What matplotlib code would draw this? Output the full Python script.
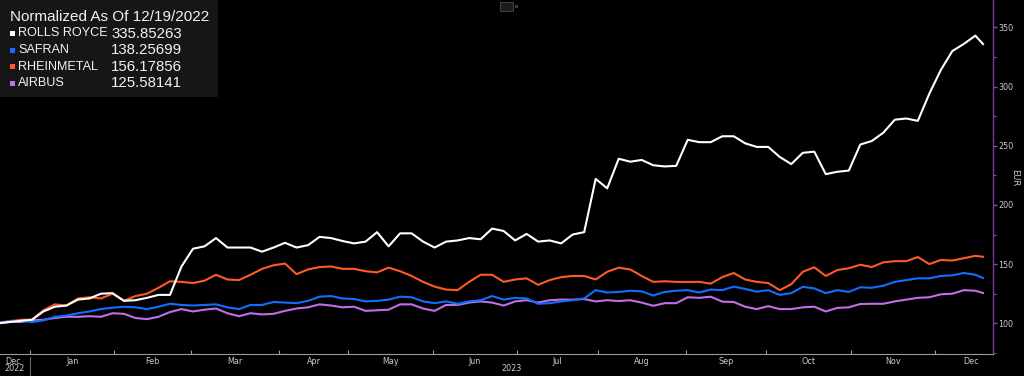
import matplotlib.pyplot as plt
import pandas as pd
from matplotlib.patches import Rectangle

plt.rcParams['font.family'] = ['Liberation Sans', 'DejaVu Sans']

# trading calendar (Xetra holidays removed)
holidays = ["2022-12-26", "2023-04-07", "2023-04-10", "2023-05-01",
            "2023-12-25", "2023-12-26"]
calendar = pd.bdate_range("2022-12-19", "2023-12-29")
calendar = calendar[~calendar.isin(pd.to_datetime(holidays))]
sessions = calendar[calendar <= "2023-12-19"]

# values read every 3rd session, plus the last one
sample_idx = list(range(0, len(sessions), 3)) + [len(sessions) - 1]

names = ["ROLLS ROYCE", "SAFRAN", "RHEINMETAL", "AIRBUS"]
last_values = ["335.85263", "138.25699", "156.17856", "125.58141"]
colors = ["#ffffff", "#0f6fff", "#ff5a24", "#c36ee8"]

rolls_royce = [100, 101, 102, 103, 110, 114, 115, 120, 121, 125,
               125.5, 119, 119.5, 121.5, 124, 124, 148, 163, 165, 172,
               164, 164, 164, 160.5, 164, 168, 164, 166, 173, 172,
               169.5, 167.5, 169, 177, 165, 176, 176, 169, 164, 169,
               170, 172, 171, 180, 178, 170, 175.5, 169, 170, 167.5,
               175, 177, 222, 214, 239, 236.5, 238, 233.5, 232.5, 233,
               255, 253, 253, 258, 258, 252, 249, 249, 240.5, 234.5,
               244, 245, 226, 228, 229, 251, 254, 261, 272, 273,
               271, 294, 314, 330, 336, 343, 335.85]
safran = [100, 102, 102.5, 101, 102.5, 105.5, 106.5, 108.5, 110, 112,
          113.2, 114, 113.5, 112, 114, 116.5, 115.5, 115, 115.5, 116,
          113.5, 112, 115.5, 115.5, 118, 117.5, 117, 119, 122.5, 123,
          121, 120.5, 118.5, 119, 120, 122.5, 122, 118.5, 117, 118.5,
          116.5, 118.5, 119.5, 123, 120, 121.5, 121, 116.5, 117, 118.5,
          119.5, 121, 128, 126, 126.5, 127.5, 127, 123.5, 126.5, 127.5,
          128, 126, 128.5, 128, 131, 129, 126.7, 128, 124, 125.5,
          130.8, 129.5, 125.5, 128, 126.5, 130.4, 130, 131.8, 135, 136.5,
          138, 138, 140, 140.5, 142.5, 141, 138.26]
rheinmetal = [100, 101, 103, 103, 111, 116, 115, 121, 122, 121,
              125, 119, 123, 125, 130, 135.5, 135, 134, 136, 141,
              137, 136.5, 141, 146, 149, 150.5, 141.5, 145.5, 147.5, 148,
              146, 146, 144, 143, 147, 144, 140, 135, 131, 128.5,
              128, 135, 141, 141, 135, 137, 138, 132.5, 136.5, 139,
              140, 140, 137, 143.5, 147, 145.5, 140, 135, 135.5, 135,
              135, 135, 133.5, 139, 142.5, 137, 135, 134, 128, 133,
              143.5, 147.3, 140, 145, 146.5, 149.5, 147.5, 151.5, 152.5, 152.5,
              156, 150, 153.5, 153, 155, 157, 156.18]
airbus = [100, 101.5, 101, 102.5, 103, 104.5, 105.5, 105.5, 106, 105.5,
          108.5, 108, 104.5, 103.5, 105.5, 109.5, 112, 110, 111.5, 112.5,
          108.5, 106, 108.5, 107.5, 108, 110.5, 112.5, 113.5, 116, 115,
          113.5, 114, 110.5, 111, 111.5, 116, 116, 112.5, 110.5, 115.5,
          115.5, 117.5, 118.5, 117.5, 115, 118.5, 119.5, 117.5, 119.5, 120,
          120, 120.5, 118.5, 119.5, 118.8, 119.5, 117.5, 114.8, 117, 117,
          122, 121.5, 122.5, 118.3, 118, 114, 112, 114.5, 112, 112,
          113.5, 114, 110, 113, 113.5, 116.3, 116.5, 116.5, 118.5, 120,
          121.5, 122, 124.5, 125, 128, 127.5, 125.58]

series = [rolls_royce, safran, rheinmetal, airbus]

W, H = 1024, 376
fig = plt.figure(figsize=(W / 100, H / 100), dpi=100, facecolor="black")
ax = fig.add_axes([0, 22 / H, 993 / W, 354 / H], facecolor="black")

# draw lower series first so white line sits on top
for vals, col, z in zip(series, colors, [5, 3, 4, 2]):
    ax.plot(sample_idx, vals, color=col, lw=1.5, zorder=z, solid_joinstyle="round")

xmin, xmax = 0.68, 259.6
ax.set_xlim(xmin, xmax)
ax.set_ylim(74.07, 373.1)

# month boundaries and labels
months = calendar.to_period("M")
starts, centers, labels = [], [], []
for m in months.unique():
    pos = [i for i, p in enumerate(months) if p == m]
    lo, hi = pos[0] - 0.5, pos[-1] + 0.5
    if lo > xmin:
        starts.append(lo)
    c = (lo + hi) / 2
    if c < xmin:
        c = (xmin + hi) / 2
    centers.append(c)
    labels.append(m.strftime("%b"))

ax.set_xticks(starts)
ax.set_xticklabels([])
ax.tick_params(axis="x", direction="in", length=3, color="#9a9a9a", width=0.8)
tr = ax.get_xaxis_transform()
for c, lab in zip(centers, labels):
    ax.text(c, -0.02, lab, transform=tr, ha="center", va="center",
            fontsize=5.8, color="#cccccc", family="DejaVu Sans")
year_split = starts[0]
ax.text((xmin + year_split) / 2, -0.042, "2022", transform=tr, ha="center",
        va="center", fontsize=5.8, color="#cccccc", family="DejaVu Sans")
ax.text((year_split + xmax) / 2, -0.042, "2023", transform=tr, ha="center",
        va="center", fontsize=5.8, color="#cccccc", family="DejaVu Sans")
ax.plot([year_split, year_split], [-0.009, -0.058], transform=tr, color="#666666",
        lw=0.8, clip_on=False)

# right axis
ax.yaxis.tick_right()
ax.set_yticks([100, 150, 200, 250, 300, 350])
ax.set_yticks([75, 125, 175, 225, 275, 325], minor=True)
ax.tick_params(axis="y", which="major", length=3, color="#8a4bb0", width=1,
               labelsize=5.8, labelcolor="#cccccc", pad=1)
ax.tick_params(axis="y", which="minor", length=2, color="#8a4bb0", width=0.8)
for lab in ax.get_yticklabels():
    lab.set_family("DejaVu Sans")
for side in ["top", "left"]:
    ax.spines[side].set_visible(False)
ax.spines["right"].set_color("#7a3c9a")
ax.spines["right"].set_linewidth(1)
ax.spines["bottom"].set_color("#9a9a9a")
ax.spines["bottom"].set_linewidth(0.8)
fig.text(1015 / W, 1 - 178 / H, "EUR", rotation=270, ha="center", va="center",
         fontsize=6, color="#cccccc", family="DejaVu Sans")

# legend block
fig.add_artist(Rectangle((0, 1 - 97 / H), 218 / W, 97 / H, transform=fig.transFigure,
                         facecolor="#161616", edgecolor="none", zorder=1))
fig.text(10 / W, 1 - 17 / H, "Normalized As Of 12/19/2022", ha="left", va="center",
         fontsize=11, color="#f2f2f2", zorder=3)
for i, (name, val, col) in enumerate(zip(names, last_values, colors)):
    yc = 33.5 + 16.6 * i
    fig.add_artist(Rectangle((10 / W, 1 - (yc + 2.5) / H), 5 / W, 5 / H,
                             transform=fig.transFigure, facecolor=col,
                             edgecolor="none", zorder=2))
    fig.text(18 / W, 1 - yc / H, name, ha="left", va="center", fontsize=9.1,
             color="#f2f2f2", zorder=3)
    fig.text(111 / W, 1 - yc / H, val, ha="left", va="center", fontsize=10.8,
             color="#f2f2f2", zorder=3)

# small toolbar icon at the top
fig.add_artist(Rectangle((500 / W, 1 - 11 / H), 13 / W, 9 / H, transform=fig.transFigure,
                         facecolor="#1c1c1c", edgecolor="#4a4a4a", lw=0.6, zorder=2))
fig.add_artist(Rectangle((515 / W, 1 - 8 / H), 3 / W, 3 / H, transform=fig.transFigure,
                         facecolor="#3a3a3a", edgecolor="none", zorder=2))

fig.savefig("out.png", dpi=100, facecolor="black")
